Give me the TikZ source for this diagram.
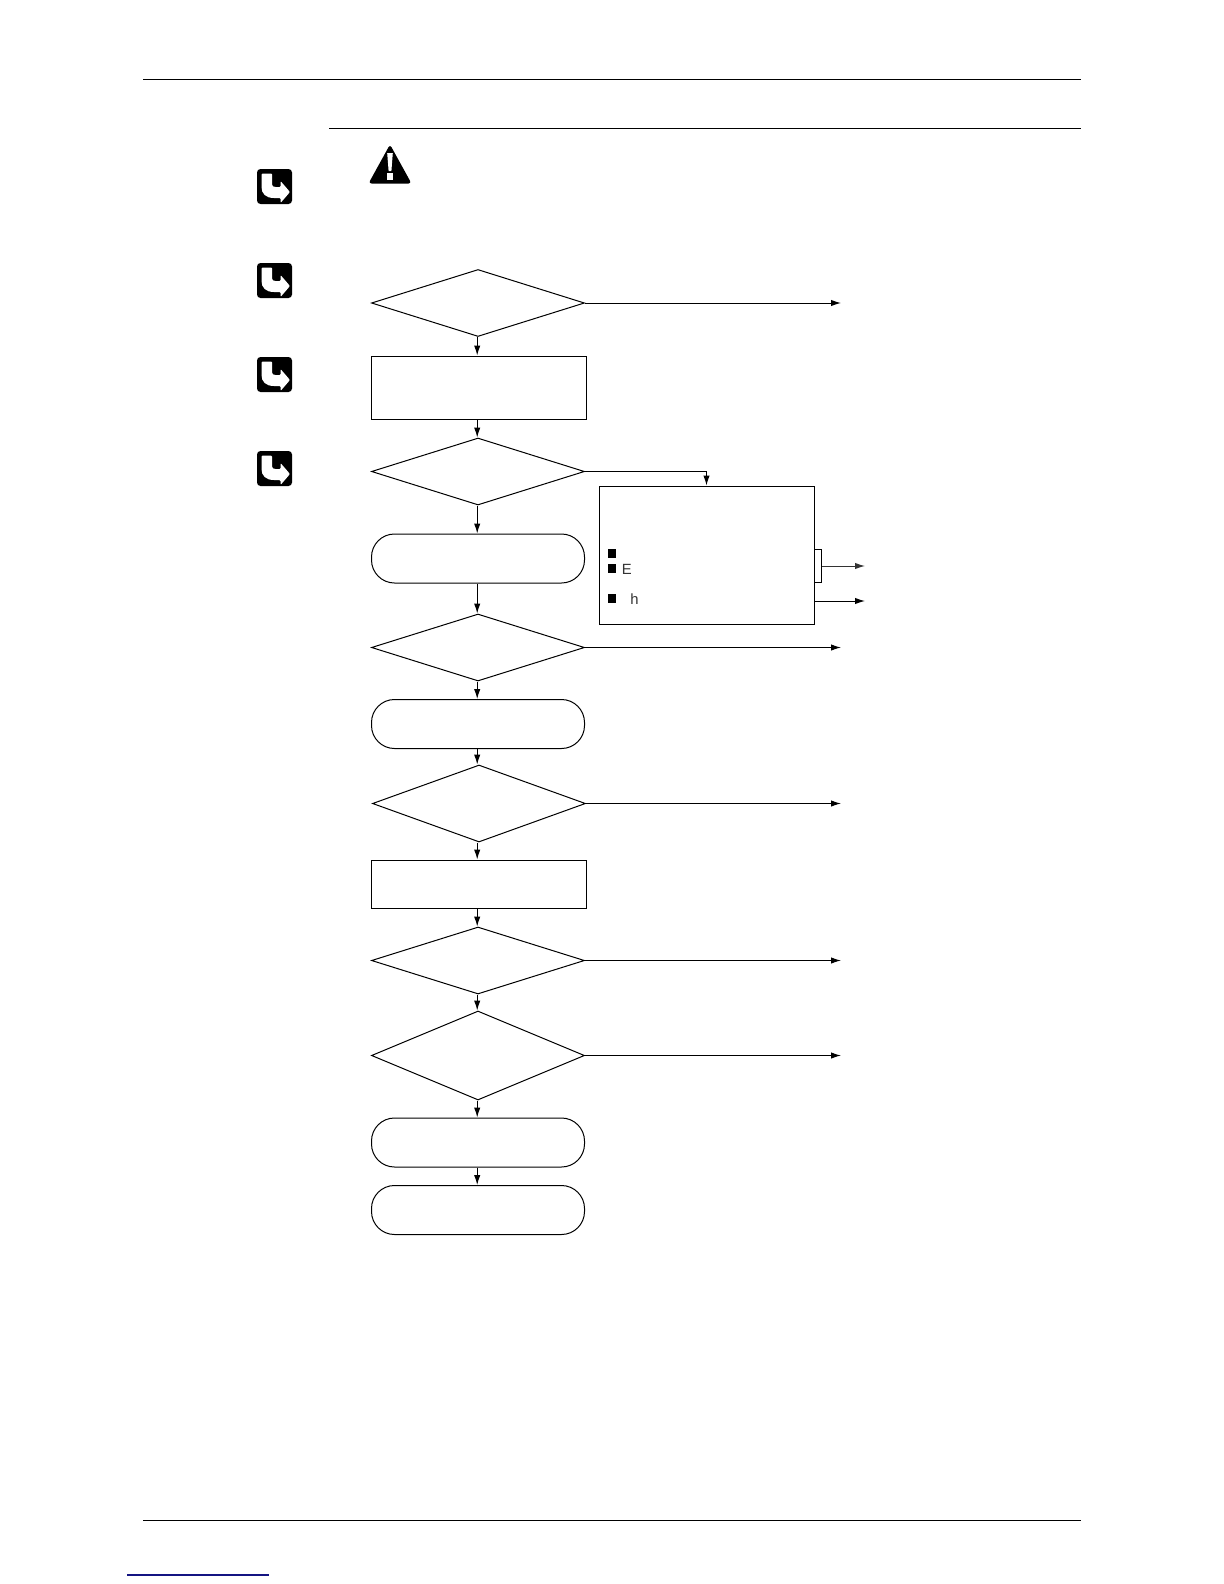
\documentclass[tikz,border=0pt]{standalone}
\usepackage{fontspec}
\setmainfont{Liberation Sans}
\usetikzlibrary{shapes.geometric,arrows.meta}
\newlength{\pxu}\setlength{\pxu}{0.5pt}
\tikzset{
  line/.style={line width=0.5pt,black},
  flow/.style={line,-{Latex[length=5pt,width=3.2pt]}},
  dec/.style={draw,line width=0.5pt,diamond,inner sep=0pt,minimum width=213\pxu,aspect=#1},
  dec/.default=3.2,
  proc/.style={draw,line width=0.5pt,rectangle,inner sep=0pt,minimum width=215\pxu},
  term/.style={draw,line width=0.5pt,rectangle,rounded corners=11.5pt,inner sep=0pt,minimum width=213\pxu,minimum height=49\pxu},
  bullet/.style={fill=black,draw=none,rectangle,inner sep=0pt,minimum width=8\pxu,minimum height=9\pxu},
  lbl/.style={inner sep=0pt,anchor=west,font=\fontsize{7.4}{8}\selectfont,text=black!80},
  icon/.pic={
    \fill[black,rounded corners=3.5\pxu] (0,0) rectangle (35,35);
    \fill[white,rounded corners=1\pxu] (4.5,4.5) -- (15,4.5) -- (15,14.5) .. controls (15,17) and (16.5,18) .. (19.5,18) -- (23.5,18) -- (23.5,12) -- (33,23) -- (23.5,34) -- (23.5,29) -- (18,29) .. controls (8.5,29) and (4.5,24.5) .. (4.5,17) -- cycle;
  },
}
\begin{document}
\begin{tikzpicture}[x=0.5pt,y=-0.5pt]
\useasboundingbox (0,0) rectangle (1224,1584);
\fill[white] (0,0) rectangle (1224,1584);
% page rules
\coordinate (t1) at (143,79.5); \coordinate (t2) at (1081,79.5);
\coordinate (s1) at (329,128.5); \coordinate (s2) at (1081,128.5);
\coordinate (b1) at (143,1520.5); \coordinate (b2) at (1081,1520.5);
\coordinate (u1) at (127,1575); \coordinate (u2) at (269,1575);
\draw[line width=0.5pt] (t1) -- (t2);
\draw[line width=0.5pt] (s1) -- (s2);
\draw[line width=0.5pt] (b1) -- (b2);
\draw[line width=0.6pt,color={rgb,255:red,20;green,20;blue,130}] (u1) -- (u2);
% icons
\pic at (257,169) {icon};
\pic at (257,263) {icon};
\pic at (257,357) {icon};
\pic at (257,451) {icon};
% warning triangle
\fill[black,rounded corners=1.5pt] (390,144.5) -- (411.5,183.5) -- (368.5,183.5) -- cycle;
\fill[white] (387.2,153) -- (392.8,153) -- (391.4,171) -- (388.6,171) -- cycle;
\fill[white] (387.2,173) rectangle (392.8,180);
% flow nodes
\node[dec=3.2,minimum height=67\pxu] (d1) at (478,303) {};
\node[proc,minimum height=63\pxu] (r1) at (479,387.5) {};
\node[dec=3.2,minimum height=67\pxu] (d2) at (478,471.5) {};
\node[term] (r2) at (478,558.5) {};
\node[dec=3.2,minimum height=67\pxu] (d3) at (478,647.5) {};
\node[term] (r3) at (478,724) {};
\node[dec=2.75,minimum height=77\pxu] (d4) at (479,803.5) {};
\node[proc,minimum height=48\pxu] (r4) at (479,884) {};
\node[dec=3.2,minimum height=67\pxu] (d5) at (478,960.5) {};
\node[dec=2.38,minimum height=89\pxu] (d6) at (478,1055.5) {};
\node[term] (r5) at (478,1142.5) {};
\node[term] (r6) at (478,1210) {};
\node[draw,line width=0.5pt,rectangle,inner sep=0pt,minimum width=215\pxu,minimum height=138\pxu] (box) at (706.5,555) {};
\node[draw,line width=0.5pt,rectangle,inner sep=0pt,minimum width=7\pxu,minimum height=33\pxu,anchor=west] (tab) at (814,565.5) {};
\node[bullet] (b1n) at (612,553.5) {};
\node[bullet] (b2n) at (612,568.5) {};
\node[bullet] (b3n) at (612,598.5) {};
\node[lbl] (e) at (621.5,569) {E};
\node[lbl] (h) at (630,599) {h};
% free ends
\coordinate (xr) at (841,0);
\coordinate (xt) at (865,566);
\coordinate (xb) at (865,601);
\coordinate (bo) at (814,601);
\coordinate (cx) at (477.2,0);
% connectors
\draw[flow] (cx |- d1.south) -- (cx |- r1.north);
\draw[flow] (cx |- r1.south) -- (cx |- d2.north);
\draw[flow] (cx |- d2.south) -- (cx |- r2.north);
\draw[flow] (cx |- r2.south) -- (cx |- d3.north);
\draw[flow] (cx |- d3.south) -- (cx |- r3.north);
\draw[flow] (cx |- r3.south) -- (cx |- d4.north);
\draw[flow] (cx |- d4.south) -- (cx |- r4.north);
\draw[flow] (cx |- r4.south) -- (cx |- d5.north);
\draw[flow] (cx |- d5.south) -- (cx |- d6.north);
\draw[flow] (cx |- d6.south) -- (cx |- r5.north);
\draw[flow] (cx |- r5.south) -- (cx |- r6.north);
\draw[flow] (d1.east) -- (xr |- d1.east);
\draw[flow] (d3.east) -- (xr |- d3.east);
\draw[flow] (d4.east) -- (xr |- d4.east);
\draw[flow] (d5.east) -- (xr |- d5.east);
\draw[flow] (d6.east) -- (xr |- d6.east);
\draw[flow] (d2.east) -| (box.north);
\draw[flow,black!80] (tab.east |- xt) -- (xt);
\draw[flow] (bo) -- (xb);
\end{tikzpicture}
\end{document}
